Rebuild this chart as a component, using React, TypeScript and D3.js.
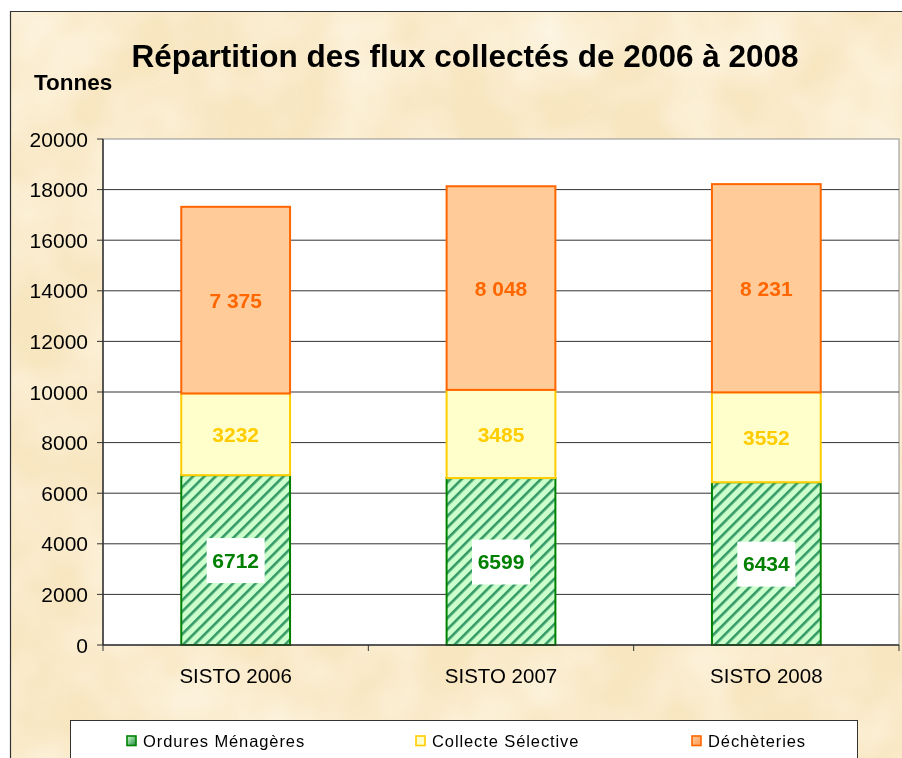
import * as d3 from "d3";

const categories = ["SISTO 2006", "SISTO 2007", "SISTO 2008"];
const ordures = [6712, 6599, 6434];
const collecte = [3232, 3485, 3552];
const decheteries = [7375, 8048, 8231];
const yTicks = [0, 2000, 4000, 6000, 8000, 10000, 12000, 14000, 16000, 18000, 20000];

const seriesNames = ["Ordures Ménagères", "Collecte Sélective", "Déchèteries"];

const W = 902;
const H = 758;
const plot = { left: 103, right: 899, top: 139, bottom: 645 };
const font = "'Liberation Sans', Arial, sans-serif";

export default function App() {
  const x = d3
    .scaleBand<string>()
    .domain(categories)
    .range([plot.left, plot.right])
    .paddingInner(0.59)
    .paddingOuter(0.295);
  const y = d3.scaleLinear().domain([0, 20000]).range([plot.bottom, plot.top]);

  const rows = categories.map((c, i) => ({
    cat: c,
    om: ordures[i],
    cs: collecte[i],
    de: decheteries[i],
  }));
  const stack = d3.stack<(typeof rows)[number]>().keys(["om", "cs", "de"]);
  const layers = stack(rows as any);

  const styles = [
    { fill: "url(#hatch)", stroke: "#008000", text: "#008000", box: true },
    { fill: "#FFFFCC", stroke: "#FFCC00", text: "#FFCC00", box: false },
    { fill: "#FFCC99", stroke: "#FF6600", text: "#FF6600", box: false },
  ];
  const fmt = (v: number, k: number) =>
    k === 2 ? d3.format(",")(v).replace(",", " ") : String(v);

  const bands = [plot.left, ...categories.map((c) => (x(c) ?? 0) + x.bandwidth() / 2 + x.step() / 2)];

  const legendItems = [
    { name: seriesNames[0], x: 127, fill: "url(#lg0)", stroke: "#008000" },
    { name: seriesNames[1], x: 416, fill: "#FFFFCC", stroke: "#FFCC00" },
    { name: seriesNames[2], x: 692, fill: "url(#lg2)", stroke: "#FF6600" },
  ];

  return (
    <svg
      width={W}
      height={H}
      style={{ position: "fixed", left: 0, top: 0, fontFamily: font }}
    >
      <defs>
        <filter id="paper" x="0" y="0" width="100%" height="100%">
          <feTurbulence type="fractalNoise" baseFrequency="0.012" numOctaves="3" seed="4" result="n" />
          <feColorMatrix
            in="n"
            type="matrix"
            values="0 0 0 0 1  0 0 0 0 0.96  0 0 0 0 0.86  0 0 0 -1.6 1.1"
          />
        </filter>
        <pattern id="hatch" width="8" height="8" patternUnits="userSpaceOnUse" patternTransform="rotate(45)">
          <rect width="8" height="8" fill="#CCFFCC" />
          <rect x="0" y="0" width="2.6" height="8" fill="#339966" />
        </pattern>
        <linearGradient id="lg0" x1="0" y1="0" x2="1" y2="1">
          <stop offset="0" stopColor="#CCFFCC" />
          <stop offset="1" stopColor="#228844" />
        </linearGradient>
        <linearGradient id="lg2" x1="0" y1="0" x2="1" y2="1">
          <stop offset="0" stopColor="#FFCC99" />
          <stop offset="1" stopColor="#FF9955" />
        </linearGradient>
      </defs>

      <rect width={W} height={H} fill="#FFFFFF" />
      <rect x={10} y={11} width={W} height={H} fill="#F8E6C0" />
      <rect x={10} y={11} width={W} height={H} filter="url(#paper)" opacity={0.75} />
      <path d={`M10.5,${H}V11.5H${W}`} fill="none" stroke="#333" strokeWidth={1.2} />

      <text x={465} y={67} textAnchor="middle" fontSize={31.5} fontWeight="bold" fill="#000">
        Répartition des flux collectés de 2006 à 2008
      </text>
      <text x={34} y={90} fontSize={22.5} fontWeight="bold" fill="#000">
        Tonnes
      </text>

      <rect
        x={plot.left}
        y={plot.top}
        width={plot.right - plot.left}
        height={plot.bottom - plot.top}
        fill="#fff"
        stroke="#909090"
        strokeWidth={1}
      />
      {yTicks.slice(1, -1).map((t) => (
        <line key={t} x1={plot.left} x2={plot.right} y1={y(t)} y2={y(t)} stroke="#333" strokeWidth={1} />
      ))}

      {layers.map((layer, k) =>
        layer.map((d, i) => {
          const x0 = x(categories[i]) ?? 0;
          const y1 = y(d[1]);
          const y0 = y(d[0]);
          const st = styles[k];
          const cx = x0 + x.bandwidth() / 2;
          const cy = (y0 + y1) / 2;
          const label = fmt(d[1] - d[0], k);
          return (
            <g key={`${k}-${i}`}>
              <rect
                x={x0}
                y={y1}
                width={x.bandwidth()}
                height={y0 - y1}
                fill={st.fill}
                stroke={st.stroke}
                strokeWidth={2}
              />
              {st.box && <rect x={cx - 29} y={cy - 22} width={58} height={45} fill="#fff" />}
              <text
                x={cx}
                y={cy}
                dy="0.36em"
                textAnchor="middle"
                fontSize={21}
                fontWeight="bold"
                fill={st.text}
              >
                {label}
              </text>
            </g>
          );
        })
      )}

      <line x1={plot.left} x2={plot.left} y1={plot.top} y2={plot.bottom} stroke="#333" strokeWidth={1.5} />
      <line x1={plot.left} x2={plot.right} y1={plot.bottom} y2={plot.bottom} stroke="#333" strokeWidth={1.5} />
      {yTicks.map((t) => (
        <g key={t}>
          <line x1={plot.left - 6} x2={plot.left} y1={y(t)} y2={y(t)} stroke="#333" />
          <text x={plot.left - 15} y={y(t)} dy="0.36em" textAnchor="end" fontSize={21} fill="#000">
            {t}
          </text>
        </g>
      ))}
      {bands.map((bx, i) => (
        <line key={i} x1={bx} x2={bx} y1={plot.bottom} y2={plot.bottom + 6} stroke="#333" />
      ))}
      {categories.map((c) => (
        <text key={c} x={(x(c) ?? 0) + x.bandwidth() / 2} y={683} textAnchor="middle" fontSize={20.5} fill="#000">
          {c}
        </text>
      ))}

      <rect x={70.5} y={720.5} width={787} height={60} fill="#fff" stroke="#333" strokeWidth={1} />
      {legendItems.map((it) => (
        <g key={it.name}>
          <rect x={it.x} y={736} width={9} height={9.5} fill={it.fill} stroke={it.stroke} strokeWidth={1.6} />
          <text x={it.x + 16} y={747} fontSize={16.5} letterSpacing={0.9} fill="#000">
            {it.name}
          </text>
        </g>
      ))}
    </svg>
  );
}
